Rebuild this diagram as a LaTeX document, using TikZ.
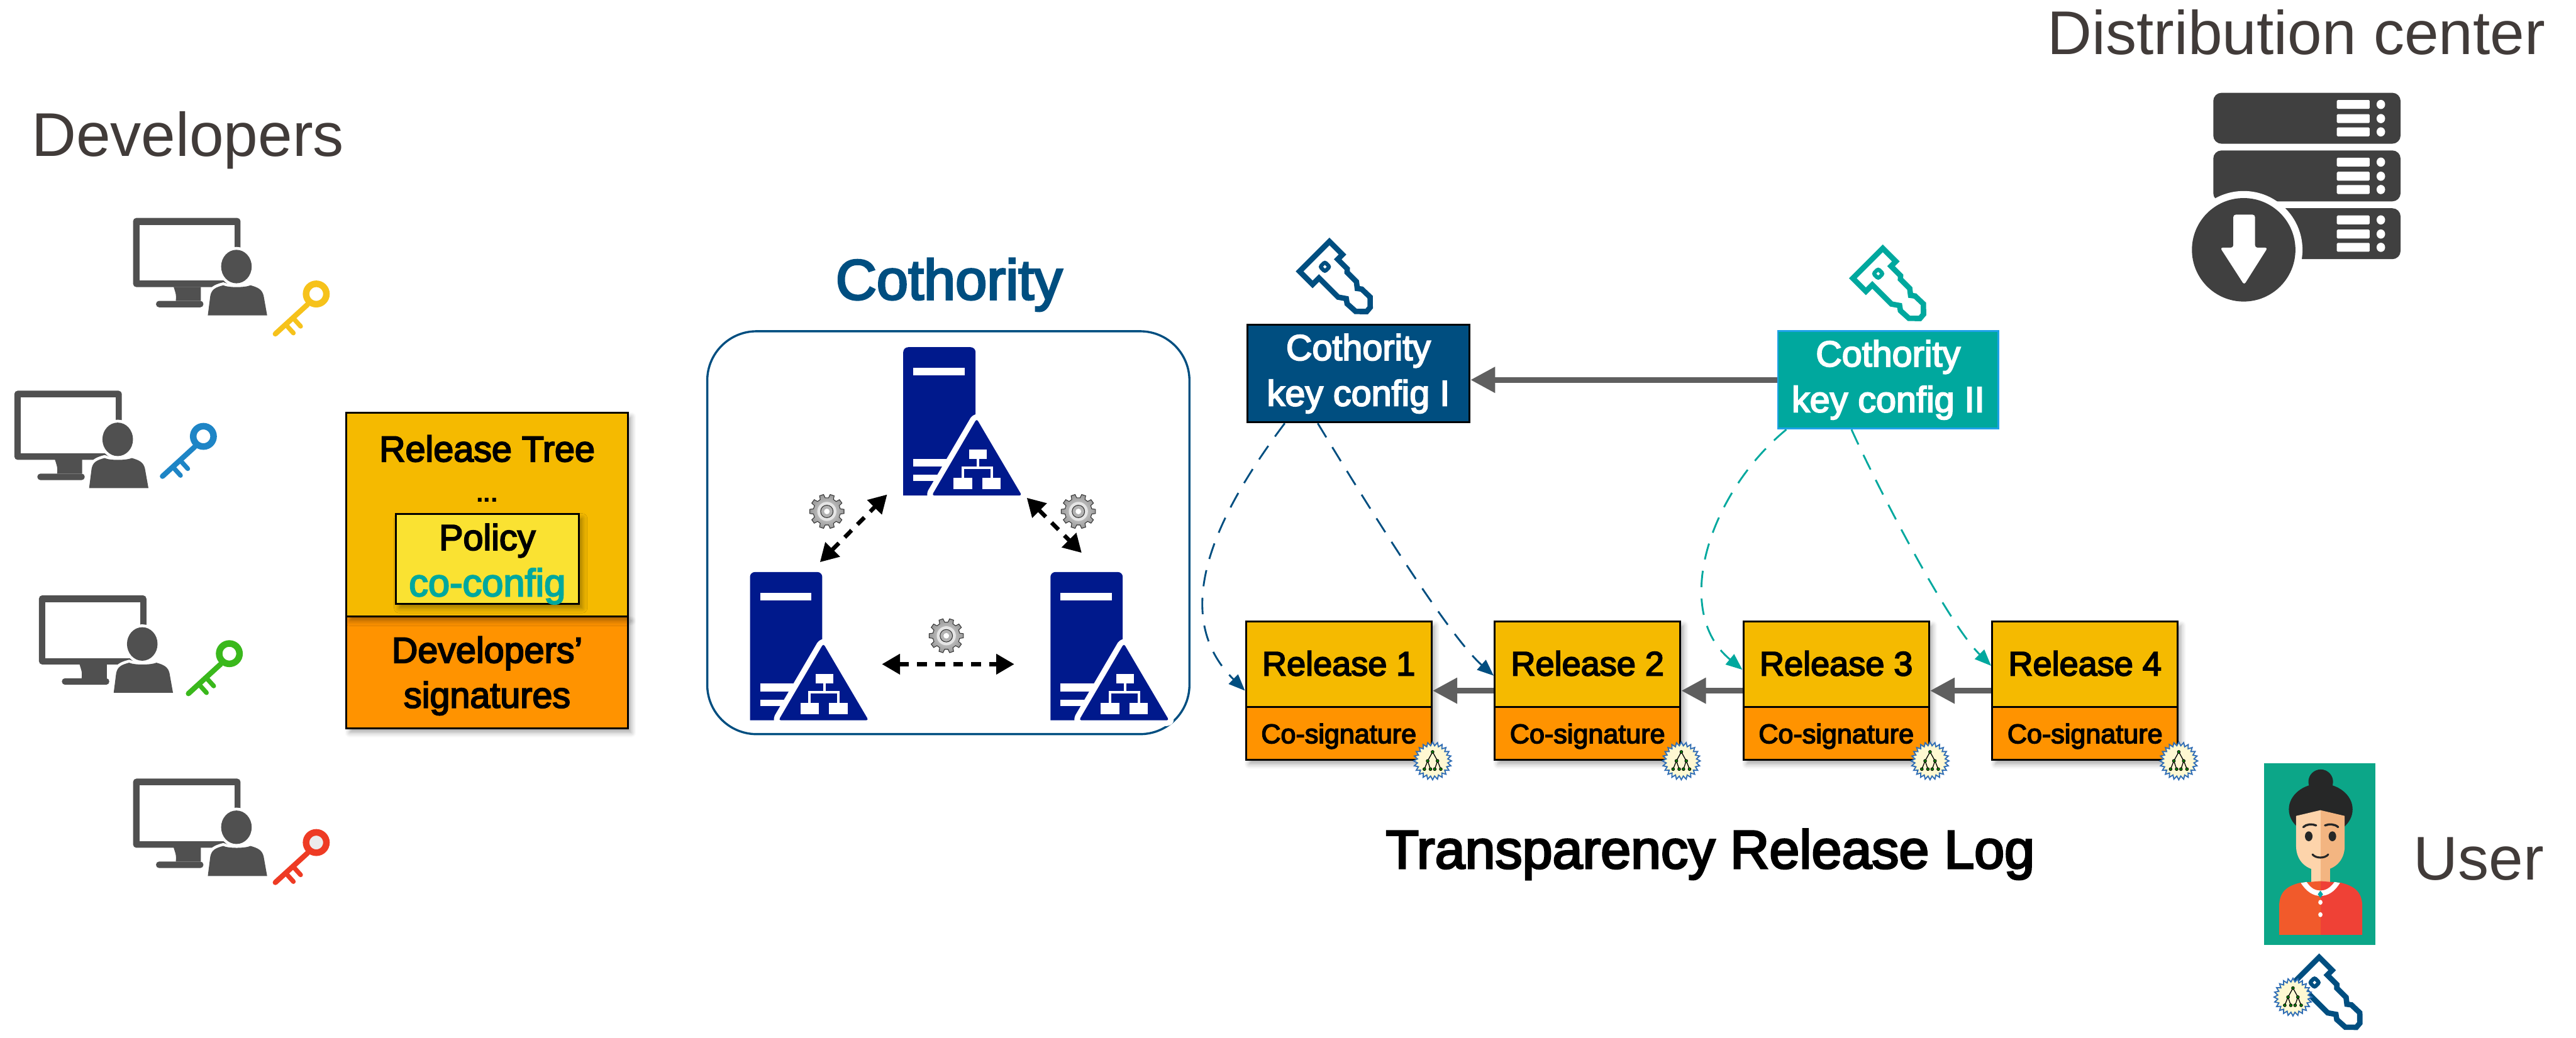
\documentclass[tikz,border=0pt]{standalone}
\usepackage{fontspec}
\setmainfont{Liberation Sans}
\newfontfamily\medfont[FakeBold=3.5]{Liberation Sans}
\usetikzlibrary{arrows.meta,calc,shadows.blur}

\definecolor{devgray}{HTML}{505050}
\definecolor{titlegray}{HTML}{413B39}
\definecolor{relamber}{HTML}{F5BA00}
\definecolor{relorange}{HTML}{FF9300}
\definecolor{policyyellow}{HTML}{FAE232}
\definecolor{coteal}{HTML}{00A89E}
\definecolor{coblue}{HTML}{004E80}
\definecolor{srvnavy}{HTML}{00198C}
\definecolor{linkgray}{HTML}{5F5F5F}
\definecolor{distgray}{HTML}{404040}
\definecolor{userteal}{HTML}{0CA688}
\definecolor{kcborder}{HTML}{1EA1E8}
\definecolor{keyyellow}{HTML}{F6C21B}
\definecolor{keyblue}{HTML}{1E85C6}
\definecolor{keygreen}{HTML}{3AB81C}
\definecolor{keyred}{HTML}{EE3B24}
\definecolor{sealfill}{HTML}{FFF8D2}
\definecolor{sealblue}{HTML}{2F6DB5}
\definecolor{skinlight}{HTML}{FDD4AB}
\definecolor{skindark}{HTML}{F3B581}
\definecolor{hairdark}{HTML}{262727}
\definecolor{shirtleft}{HTML}{F15A2B}
\definecolor{shirtright}{HTML}{EF4136}

\tikzset{
  heading/.style={font=\fontsize{37.6}{40}\selectfont, text=titlegray, inner sep=0pt},
  boxtext/.style={font=\medfont\fontsize{22}{24}\selectfont, inner sep=0pt, anchor=base},
  boxshadow/.style={blur shadow={shadow xshift=2pt, shadow yshift=-2.5pt, shadow blur radius=3pt, shadow blur steps=6, shadow opacity=35}},
  treebox/.style={draw=black, line width=1.2pt, inner sep=0pt, boxshadow},
  kcbox/.style={line width=1.1pt, text=white, align=center, inner sep=0pt, minimum height=59.4pt, font=\medfont\fontsize{22}{27.8}\selectfont},
  relbox/.style={draw=black, line width=1.2pt, fill=relamber, minimum width=113pt, minimum height=84.3pt, inner sep=0pt, boxshadow},
  sigbox/.style={draw=black, line width=1.2pt, fill=relorange, minimum width=113pt, minimum height=32.1pt, inner sep=0pt, font=\medfont\fontsize{16.5}{18}\selectfont, text height=11.8pt, text depth=0pt},
  reltext/.style={font=\medfont\fontsize{20.7}{22}\selectfont, inner sep=0pt, text height=14.8pt, text depth=0pt},
  srvspot/.style={minimum width=72.2pt, minimum height=90.3pt, inner sep=0pt, anchor=north west},
  chainarrow/.style={draw=linkgray, line width=3.5pt, -{Triangle[length=15pt,width=15pt]}},
  keylink/.style={line width=1.1pt, dash pattern=on 10pt off 7pt, -{Triangle[length=10pt,width=8pt]}},
  srvlink/.style={line width=2.5pt, dash pattern=on 6pt off 5pt, {Triangle[length=11pt,width=12pt]}-{Triangle[length=11pt,width=12pt]}},
  % pics only get the shift, so each one turns its own y axis downwards
  % monitor with a person in front of it
  pics/devpc/.style={code={
    \begin{scope}[yscale=-1]
    \fill[devgray, rounded corners=2pt] (0,0) rectangle (65.4,42.1);
    \fill[white] (4,4.2) rectangle (61.7,38.2);
    \fill[devgray] (24.7,42) -- (41.3,42) -- (41.3,50.5) -- (26,50.5) .. controls (26.3,47) .. (24.7,42) -- cycle;
    \fill[devgray, rounded corners=1.8pt] (14,50.5) rectangle (42.8,54.4);
    \path[fill=devgray, preaction={draw=white, line width=3.5pt}] (45.5,59.3) -- (47,47.5) .. controls (47.8,43.5) and (50,42.3) .. (54.9,41) .. controls (58,42.5) and (68,42.5) .. (71.5,41) .. controls (76,42.3) and (78.6,43.5) .. (79.5,47.5) -- (81.6,59.3) -- cycle;
    \path[fill=devgray, preaction={draw=white, line width=3.5pt}] (62.9,29.6) ellipse [x radius=9.3, y radius=10.2];
    \end{scope}
  }},
  % classic key, ring colour and hole colour
  pics/devkey/.style 2 args={code={
    \begin{scope}[yscale=-1]
    \draw[#1, line width=3.2pt, line cap=round] (-5.3,6.4) -- (-24.9,24.3);
    \draw[#1, line width=2.8pt, line cap=round] (-14.2,14.5) -- (-9.5,19.7) (-18.6,18.6) -- (-13.9,23.8);
    \draw[#1, line width=4pt, fill=#2] (0,0) circle [radius=6.2];
    \end{scope}
  }},
  % outlined key of the cothority, head centre at the origin
  pics/cokey/.style={code={
    \begin{scope}[yscale=-1, rotate=-45, scale=0.92]
      \draw[#1, line width=3.3pt, fill=white, line join=miter] (-14,-6.1) -- (14,-6.1) -- (14,6.1) -- (9.5,6.1) -- (9.5,15) -- (7.8,16.6) -- (7.8,25.3) -- (5,28.9) -- (6.8,31.3) -- (7,38.9) -- (2.2,43.8) -- (-1.4,44.1) -- (-6.5,38.9) -- (-6.9,31.3) -- (-4.9,28.5) -- (-8,24) -- (-8,6.1) -- (-14,6.1) -- cycle;
      \draw[#1, line width=2.4pt, rounded corners=1pt] (-2.2,1.4) rectangle (2.2,5.8);
    \end{scope}
  }},
  % tower server with network sign
  pics/server/.style={code={
    \begin{scope}[yscale=-1]
    \fill[srvnavy] (0,90.3) [rounded corners=3pt] -- (0,0) -- (44,0) [sharp corners] -- (44,90.3) -- cycle;
    \fill[white] (6.2,12.6) rectangle (37.5,17.1);
    \fill[white] (6.2,68) rectangle (32,72.8);
    \fill[white] (6.2,77.6) rectangle (28,81.6);
    \path[fill=srvnavy, rounded corners=1.5pt, preaction={draw=white, line width=7pt, line join=round}] (44.7,43.6) -- (72.2,90.3) -- (17.4,90.3) -- cycle;
    \fill[white] (40,62.2) rectangle (50.8,67.9);
    \fill[white] (30.7,79.6) rectangle (42,86.4);
    \fill[white] (48.2,79.6) rectangle (59.4,86.4);
    \draw[white, line width=1.6pt] (45.4,67.9) -- (45.4,73.3) (36.3,79.6) -- (36.3,73.3) -- (53.8,73.3) -- (53.8,79.6);
    \end{scope}
  }},
  pics/gear/.style={code={
    \shadedraw[inner color=gray!25, outer color=gray!80, draw=gray!40!black, line width=0.4pt] (-7:10.5) \foreach \k in {0,...,9} { -- ({36*\k-7}:10.5) -- ({36*\k+7}:10.5) -- ({36*\k+11}:8.3) -- ({36*\k+25}:8.3) } -- cycle;
    \fill[gray!20] (0,0) circle [radius=5.8];
    \draw[fill=gray!60, draw=gray!40!black, line width=0.4pt] (0,0) circle [radius=3.8];
    \fill[white] (0,0) circle [radius=1.7];
  }},
  % co-signature seal
  pics/seal/.style={code={
    \begin{scope}[yscale=-1]
    \draw[fill=sealfill, draw=sealblue, line width=0.7pt] (0:11.5) \foreach \i in {1,...,47} { -- ({\i*7.5}:{ifthenelse(isodd(\i),9.3,11.5)}) } -- cycle;
    \draw[black, line width=0.5pt] (0,-5.5) -- (-3,0) -- (-5,5) (-3,0) -- (-1.3,5) (0,-5.5) -- (3,0) -- (1.3,5) (3,0) -- (5,5);
    \foreach \p in {(0,-5.5),(-3,0),(3,0),(-5,5),(-1.3,5),(1.3,5),(5,5)}
      \filldraw[fill=green!50!black, draw=black, line width=0.3pt] \p circle [radius=0.9];
    \end{scope}
  }}
}

\begin{document}
\begin{tikzpicture}[x=1pt,y=1pt,yscale=-1,xscale=1]
\useasboundingbox (0,0) rectangle (1568,631.8);

% titles
\node[heading, anchor=base west] (devtitle) at (19,95) {Developers};
\node[heading, anchor=base east] (disttitle) at (1549.5,33) {Distribution center};
\node[heading, anchor=base west] (usertitle) at (1469,535.7) {User};
\node[font=\medfont\fontsize{34.5}{36}\selectfont, text=coblue, inner sep=0pt, anchor=base] (cotitle) at (577.7,182.3) {Cothority};
\node[font=\medfont\fontsize{33}{35}\selectfont, inner sep=0pt, anchor=base] (logtitle) at (1041,528.7) {Transparency Release Log};

% developers and their keys
\foreach \px/\py in {81/132.7, 8.75/237.9, 23.7/362.5, 81/474.1}
  \pic at (\px,\py) {devpc};
\pic at (192.5,179) {devkey={keyyellow}{white}};
\pic at (123.8,265.7) {devkey={keyblue}{white}};
\pic at (139.6,398) {devkey={keygreen}{white}};
\pic at (192.5,513) {devkey={keyred}{gray!15}};

% release tree
\node[treebox, fill=relorange, minimum width=171.3pt, minimum height=68pt] (devsig) at (296.55,409.5) {};
\node[treebox, fill=relamber, minimum width=171.3pt, minimum height=124.1pt] (tree) at (296.55,313.45) {};
\node[treebox, fill=policyyellow, minimum width=111.5pt, minimum height=54.7pt] (policy) at (296.65,340.45) {};
\node[boxtext] (treelabel) at (296.5,281) {Release Tree};
\node[font=\bfseries\fontsize{16}{18}\selectfont, inner sep=0pt, anchor=base] (treedots) at (296.5,305.5) {...};
\node[boxtext] (policylabel) at (296.6,334.9) {Policy};
\node[boxtext, font=\medfont\fontsize{23.5}{25}\selectfont, text=coteal] (coconfig) at (296.6,363) {co-config};
\node[boxtext] (siglabel) at (296.5,403.5) {Developers’};
\node[boxtext] (siglabelb) at (296.5,430.9) {signatures};

% cothority
\node[draw=coblue, line width=1.3pt, rounded corners=30pt, minimum width=293.5pt, minimum height=245.3pt, inner sep=0pt] (coframe) at (577.25,324.35) {};
\node[srvspot] (s1) at (549.8,211.4) {};
\node[srvspot] (s2) at (456.5,348.3) {};
\node[srvspot] (s3) at (639.4,348.3) {};
\foreach \s in {s1,s2,s3}
  \pic at (\s.north west) {server};
\draw[srvlink] ($(s2.north east)+(-30,-6)$) -- ($(s1.south west)+(-9.8,-1)$);
\draw[srvlink] ($(s1.south east)+(2.6,1)$) -- ($(s3.north west)+(19,-11.7)$);
\draw[srvlink] ($(s2.east)+(7.7,10.75)$) -- ($(s3.west)+(-22,10.75)$);
\pic at (503.3,311.4) {gear};
\pic at (656.4,311.4) {gear};
\pic at (576,387.1) {gear};

% key configurations
\node[kcbox, fill=coblue, draw=black, minimum width=135.3pt] (kc1) at (826.85,227.5) {Cothority\\key config I};
\node[kcbox, fill=coteal, draw=kcborder, minimum width=134.2pt] (kc2) at (1149.3,231.3) {Cothority\\key config II};
\pic at (804.1,160.1) {cokey=coblue};
\pic at (1140.9,164.3) {cokey=coteal};
\draw[chainarrow] (kc2.west) -- (kc2.west -| kc1.east);

% release log
\foreach \i/\x in {1/814.9, 2/966.3, 3/1117.7, 4/1269.1}{
  \node[relbox] (r\i) at (\x,420.55) {};
  \node[sigbox, anchor=south] (c\i) at (r\i.south) {Co-signature};
  \node[reltext] (rl\i) at ($(r\i.north)!0.5!(c\i.north)$) {Release \i};
}
\foreach \a/\b in {2/1, 3/2, 4/3}
  \draw[chainarrow] (r\a.west) -- (r\b.east);
\foreach \i in {1,...,4}
  \pic at (c\i.south east) {seal};

% dashed links from the key configurations
\draw[keylink, coblue] ($(kc1.south)+(-44.85,0)$) .. controls +(-45,59.8) and +(-45.4,-45) .. (r1.west);
\draw[keylink, coblue] ($(kc1.south)+(-24.75,0)$) .. controls +(19.9,32.8) and +(-29.8,-26.4) .. ($(r2.west)+(0,-9.15)$);
\draw[keylink, coteal] ($(kc2.south)+(-62,0)$) .. controls +(-47.3,39) and +(-43.2,-35.8) .. ($(r3.west)+(0,-12.75)$);
\draw[keylink, coteal] ($(kc2.south)+(-22.3,0)$) .. controls +(13,29) and +(-27.7,-27.4) .. ($(r4.west)+(0,-15.15)$);

% distribution center
\foreach \yo in {56.5,91.6,126.8}{
  \fill[distgray, rounded corners=5pt] (1347.2,\yo) rectangle (1461.2,\yo+31);
  \foreach \bo in {4.4,13,21.1}{
    \fill[white, rounded corners=0.6pt] (1422.4,\yo+\bo) rectangle (1442.4,\yo+\bo+5.4);
    \fill[white] (1449.2,\yo+\bo+2.7) ellipse [x radius=2.6, y radius=2.8];
  }
}
\fill[white] (1365.7,152.1) circle [radius=35.8];
\fill[distgray] (1365.7,152.1) circle [radius=31.5];
\fill[white, rounded corners=1.5pt] (1359.4,130.7) -- (1372.6,130.7) -- (1372.6,150.8) -- (1380.3,150.8) -- (1366,173.4) -- (1351.4,150.8) -- (1359.4,150.8) -- cycle;

% user portrait
\fill[userteal] (1378.1,464.9) rectangle (1445.7,575.2);
\fill[hairdark] (1412.6,476) circle [radius=7.5];
\fill[hairdark] (1412.6,492.8) ellipse [x radius=19.4, y radius=15.7];
\fill[skinlight] (1406.8,525) rectangle (1412.4,541);
\fill[skindark] (1412.4,525) rectangle (1418.3,541);
\begin{scope}
  \clip (1387.3,569.2) -- (1387.3,552) .. controls (1387.3,543) and (1392,539.5) .. (1400,537.5) -- (1412.4,536.5) -- (1425,537.5) .. controls (1433,539.5) and (1437.9,543) .. (1437.9,552) -- (1437.9,569.2) -- cycle;
  \fill[shirtleft] (1385,530) rectangle (1412.4,570);
  \fill[shirtright] (1412.4,530) rectangle (1440,570);
\end{scope}
\fill[white] (1400.5,537.6) .. controls (1404,543) and (1408,545.5) .. (1412.4,545.5) .. controls (1417,545.5) and (1421,543) .. (1424.3,537.6) -- (1421,537) .. controls (1418,541) and (1415.5,542.2) .. (1412.4,542.2) .. controls (1409.3,542.2) and (1406.7,541) .. (1404,537) -- cycle;
\fill[teal!70!cyan] (1412.4,542.3) -- (1414,544.5) -- (1412.4,546.7) -- (1410.8,544.5) -- cycle;
\fill[white] (1412.4,549.4) ellipse [x radius=1.3, y radius=1.5];
\fill[white] (1412.4,556.9) ellipse [x radius=1.3, y radius=1.5];
\begin{scope}
  \clip (1397.6,496.8) -- (1412.4,493.3) -- (1427.2,496.8) -- (1427.2,515) .. controls (1427.2,524.5) and (1420.5,530) .. (1412.4,530) .. controls (1404.3,530) and (1397.6,524.5) .. (1397.6,515) -- cycle;
  \fill[skinlight] (1390,490) rectangle (1412.4,535);
  \fill[skindark] (1412.4,490) rectangle (1435,535);
\end{scope}
\fill[hairdark] (1405.3,509.2) ellipse [x radius=2.3, y radius=3];
\fill[hairdark] (1419.7,509.2) ellipse [x radius=2.3, y radius=3];
\draw[hairdark, line width=1.3pt, line cap=round] (1402,503.6) .. controls (1404,501.6) and (1407.5,501.6) .. (1409.8,502.6);
\draw[hairdark, line width=1.3pt, line cap=round] (1415.2,502.6) .. controls (1417.5,501.6) and (1421,501.6) .. (1423.2,503.6);
\draw[hairdark, line width=1.2pt, line cap=round] (1407.6,520.2) .. controls (1409.5,522.8) and (1415.3,522.8) .. (1417.2,520.2);
\pic at (1406.5,595.9) {cokey=coblue};
\pic at (1395.7,607.1) {seal};

\end{tikzpicture}
\end{document}
